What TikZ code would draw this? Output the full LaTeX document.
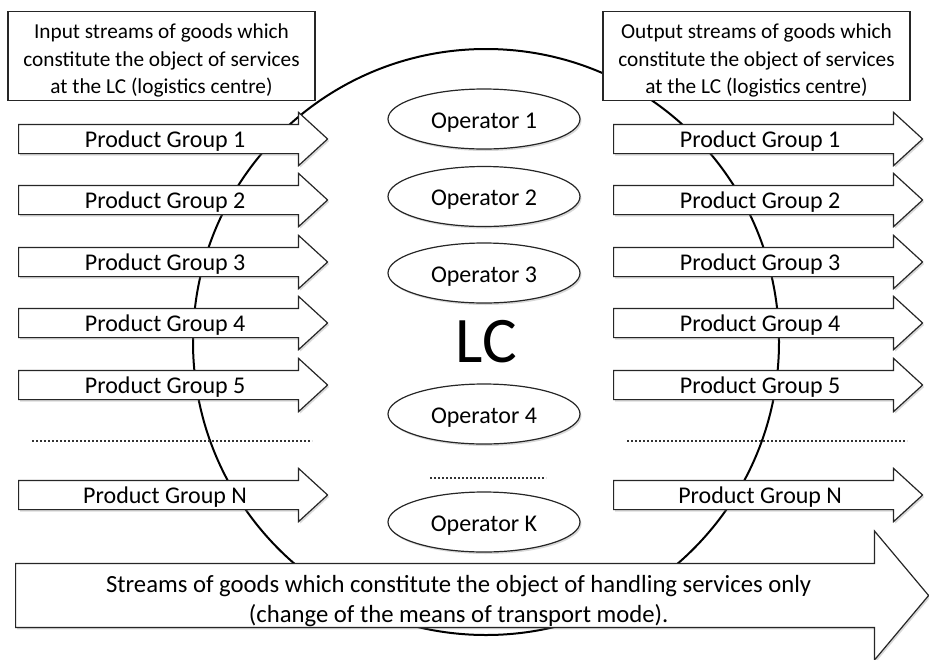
\documentclass[tikz,border=0pt]{standalone}
\usepackage{fontspec}
\setmainfont{Carlito}
\usetikzlibrary{shapes.arrows,shapes.geometric,shadows}

\begin{document}
\begin{tikzpicture}[x=1pt,y=-1pt,
		shade/.style={drop shadow={opacity=0.3,shadow xshift=1.5pt,shadow yshift=-2pt}},
		group/.style={single arrow,draw=black!85,fill=white,line width=1.2pt,single arrow head extend=12pt,single arrow tip angle=85,minimum height=309pt,text height=19pt,text depth=3pt,inner ysep=3pt,inner xsep=0pt,anchor=tail,font=\fontsize{24pt}{28pt}\selectfont,shade},
		oper/.style={ellipse,draw=black!85,fill=white,line width=1.2pt,minimum width=192pt,minimum height=60pt,inner sep=0pt,text height=20pt,text depth=2pt,font=\fontsize{24pt}{28pt}\selectfont,shade},
		infobox/.style={draw=black!85,fill=white,line width=1.2pt,minimum width=307pt,minimum height=88pt,align=center,font=\fontsize{21.3pt}{27.5pt}\selectfont},
		dots/.style={line width=2pt,dash pattern=on 1.6pt off 2.4pt,black!80}]
	\useasboundingbox (0,0) rectangle (929,659);
	\node(lc) at (486,342)[circle,draw,line width=2pt,minimum size=586pt,inner sep=0pt,font=\fontsize{65pt}{70pt}\selectfont]{LC};
	% boxes on top
	\node(inbox) at (161.5,56)[infobox]{\rule{0pt}{24pt}Input streams of goods which\\constitute the object of services\\at the LC (logistics centre)};
	\node(outbox) at (756.5,56)[infobox]{\rule{0pt}{24pt}Output streams of goods which\\constitute the object of services\\at the LC (logistics centre)};
	% input streams
	\node(in1) at (18,139)[group]{Product Group 1};
	\node(in2) at (18,200)[group]{Product Group 2};
	\node(in3) at (18,262)[group]{Product Group 3};
	\node(in4) at (18,323)[group]{Product Group 4};
	\node(in5) at (18,385)[group]{Product Group 5};
	\node(inN) at (18,495)[group]{Product Group N};
	% output streams
	\node(out1) at (613,139)[group]{Product Group 1};
	\node(out2) at (613,200)[group]{Product Group 2};
	\node(out3) at (613,262)[group]{Product Group 3};
	\node(out4) at (613,323)[group]{Product Group 4};
	\node(out5) at (613,385)[group]{Product Group 5};
	\node(outN) at (613,495)[group]{Product Group N};
	% operators
	\node(op1) at (484,119)[oper]{Operator 1};
	\node(op2) at (484,196.5)[oper]{Operator 2};
	\node(op3) at (484,273)[oper]{Operator 3};
	\node(op4) at (484,414)[oper]{Operator 4};
	\node(opK) at (484,522)[oper]{Operator K};
	\draw[dots] (32,441) -- (312,441);
	\draw[dots] (627,441) -- (907,441);
	\draw[dots] (430,478) -- (546,478);
	% handling only
	\node(hand) at (15,595.5)[single arrow,draw=black!85,fill=white,line width=1.2pt,single arrow head extend=32.5pt,single arrow tip angle=100,minimum height=913pt,inner ysep=0.5pt,inner xsep=0pt,anchor=tail,align=center,font=\fontsize{24.7pt}{30pt}\selectfont,shade]{\rule{0pt}{27.5pt}Streams of goods which constitute the object of handling services only\\(change of the means of transport mode).};
\end{tikzpicture}
\end{document}
